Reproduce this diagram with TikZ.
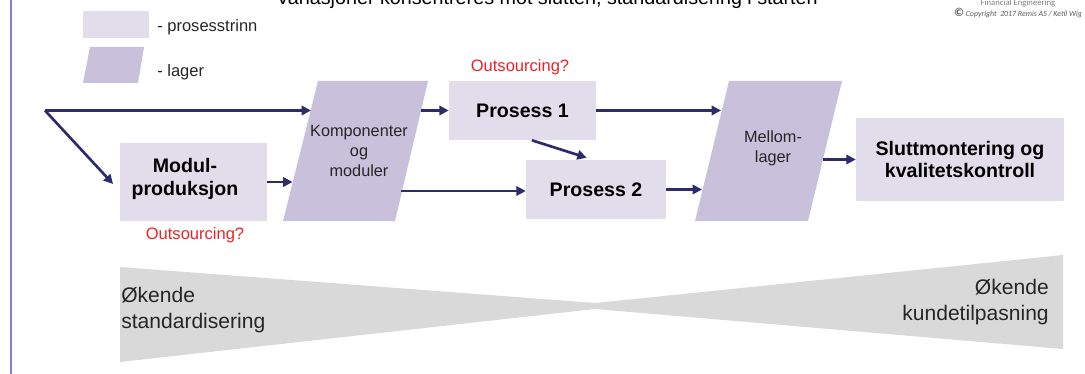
\documentclass[tikz,border=0pt]{standalone}
\usepackage{fontspec}
\setmainfont{Liberation Sans}
\newfontfamily\califont{Carlito}
\usetikzlibrary{arrows.meta}
\definecolor{procfill}{HTML}{E2DDEB}
\definecolor{lagerfill}{HTML}{C9C0DC}
\definecolor{arrowc}{HTML}{2B2B6E}
\definecolor{outred}{HTML}{EE2026}
\definecolor{bowgray}{HTML}{D9D9D9}
\definecolor{borderc}{HTML}{8A7DCF}
\definecolor{txtgray}{HTML}{262626}
\begin{document}
\begin{tikzpicture}[x=0.75pt,y=-0.75pt,
  arr/.style={draw=arrowc, line width=2pt, -{Triangle[length=7pt,width=7pt]}},
  proc/.style={fill=procfill, inner sep=0pt},
  lagershape/.style={fill=lagerfill},
  boldtxt/.style={font=\fontsize{14.7}{17}\selectfont\bfseries, align=center, text=black, inner sep=0pt},
  regtxt/.style={font=\fontsize{12.2}{15}\selectfont, align=center, text=txtgray, inner sep=0pt},
  outs/.style={font=\fontsize{12.4}{15}\selectfont, text=outred, inner sep=0pt},
  legtxt/.style={font=\fontsize{12.4}{15}\selectfont, text=txtgray, inner sep=0pt, anchor=west},
  bowtxt/.style={font=\fontsize{15.8}{19}\selectfont, text=txtgray, inner sep=0pt},
]
\useasboundingbox (0,0) rectangle (1085,374);
% slide border
\draw[borderc, line width=1.2pt] (11,0) -- (11,374);
% title (cut at top, as in the reference)
\node[anchor=base, font=\fontsize{14.8}{17}\selectfont, text=black, inner sep=0pt] (title) at (547,5) {Variasjoner konsentreres mot slutten, standardisering i starten};
% logo
\node[font=\califont\fontsize{6.5}{7}\selectfont, text=gray, inner sep=0pt] (fe) at (1018,3) {Financial Engineering};
\node[font=\califont\fontsize{5.9}{7}\selectfont, text=gray!70!black, inner sep=0pt] (copy) at (1018,13) {{\fontsize{9}{9}\selectfont\bfseries\textcopyright}\ \textit{Copyright\ \ 2017 Remis AS / Ketil Wig}};
% legend
\node[proc, minimum width=49.5pt, minimum height=20.25pt] (legbox) at (116,24.5) {};
\node[legtxt] (legp) at (157,27) {- prosesstrinn};
\fill[lagershape] (83,83) -- (138,83) -- (144,47) -- (90,47) -- cycle;
\node[legtxt] (legl) at (157,72) {- lager};
% boxes
\node[proc, minimum width=110.25pt, minimum height=58.5pt] (modul) at (193.5,182) {};
\node[boldtxt] (modultxt) at (185,179) {Modul-\\produksjon};
\fill[lagershape] (283,221) -- (395,221) -- (428,81) -- (318,81) -- cycle;
\node[regtxt] (kompo) at (359,151) {Komponenter\\og\\moduler};
\node[proc, boldtxt, minimum width=110.25pt, minimum height=44.25pt] (p1) at (522.5,110.5) {Prosess 1};
\node[proc, boldtxt, minimum width=105pt, minimum height=44.25pt] (p2) at (596,189.5) {Prosess 2};
\fill[lagershape] (695,221) -- (808,221) -- (842,81) -- (729,81) -- cycle;
\node[regtxt] (mellom) at (773,148) {Mellom-\\lager};
\node[proc, boldtxt, minimum width=156pt, minimum height=62.25pt] (slutt) at (960,159.5) {Sluttmontering og\\kvalitetskontroll};
% outsourcing labels
\node[outs] (out1) at (520,67) {Outsourcing?};
\node[outs] (out2) at (195,235) {Outsourcing?};
% connector points on slanted edges
\coordinate (start) at (45,110.5);
\coordinate (kin1) at (311,110.5);
\coordinate (kin2) at (292.5,182);
\coordinate (kout1) at (421,110.5);
\coordinate (kout2) at (401,191);
\coordinate (min1) at (721,110.5);
\coordinate (min2) at (702,189.5);
\coordinate (mout) at (823,159.5);
% connectors
\draw[arr] (start) -- (kin1);
\draw[arr] (start) -- ([xshift=-5pt,yshift=-1.5pt]modul.west);
\draw[arr] (modul.east) -- (kin2);
\draw[arr] (kout1) -- (p1.west);
\draw[arr] (p1.east) -- (min1);
\draw[arr] ([xshift=7pt]p1.south) -- ([xshift=-7pt,yshift=1.5pt]p2.north);
\draw[arr] (kout2) -- (kout2 -| p2.west);
\draw[arr] (p2.east) -- (min2);
\draw[arr] (mout) -- (slutt.west);
% bowtie
\fill[bowgray] (120,267) -- (595,303) -- (1063,255) -- (1063,349) -- (595,309) -- (120,362) -- cycle;
\node[bowtxt, anchor=west, align=left] (stdtxt) at (121,310) {Økende\\standardisering};
\node[bowtxt, anchor=east, align=right] (kundtxt) at (1049,302) {Økende\\kundetilpasning};
\end{tikzpicture}
\end{document}
